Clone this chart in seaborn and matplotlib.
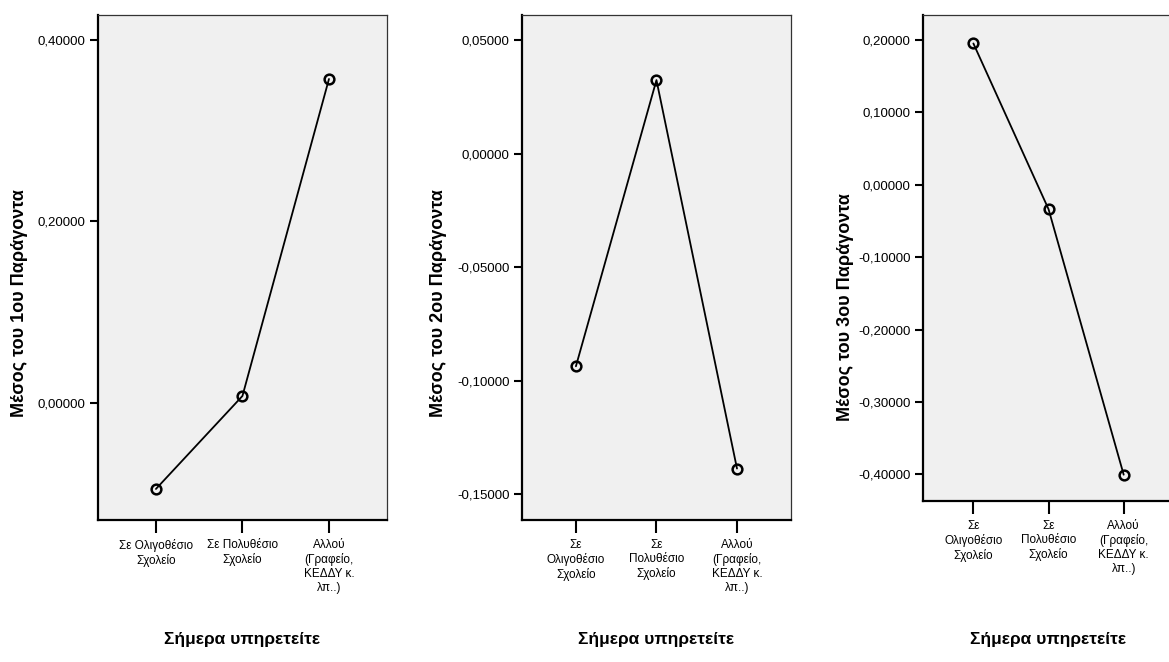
import matplotlib
matplotlib.use("Agg")
import matplotlib.pyplot as plt
import seaborn as sns
from matplotlib.ticker import FuncFormatter

# category labels (two layouts, as SPSS wrapped them)
cats_wide = ["Σε Ολιγοθέσιο\nΣχολείο", "Σε Πολυθέσιο\nΣχολείο", "Αλλού\n(Γραφείο,\nΚΕΔΔΥ κ.\nλπ..)"]
cats_narrow = ["Σε\nΟλιγοθέσιο\nΣχολείο", "Σε\nΠολυθέσιο\nΣχολείο", "Αλλού\n(Γραφείο,\nΚΕΔΔΥ κ.\nλπ..)"]

# means per factor
factor1 = [-0.0948, 0.0077, 0.357]
factor2 = [-0.0937, 0.0325, -0.1388]
factor3 = [0.1953, -0.0337, -0.4006]

ylabels = ["Μέσος του 1ου Παράγοντα", "Μέσος του 2ου Παράγοντα", "Μέσος του 3ου Παράγοντα"]
yticks1 = [0.0, 0.2, 0.4]
yticks2 = [-0.15, -0.10, -0.05, 0.0, 0.05]
yticks3 = [-0.4, -0.3, -0.2, -0.1, 0.0, 0.1, 0.2]
xlabel = "Σήμερα υπηρετείτε"

sns.set_style("white")
plt.rcParams["font.family"] = ["Liberation Sans", "DejaVu Sans"]
plt.rcParams["text.color"] = "black"
plt.rcParams["axes.labelcolor"] = "black"
plt.rcParams["xtick.color"] = "black"
plt.rcParams["ytick.color"] = "black"

fig = plt.figure(figsize=(11.69, 6.62), dpi=100)

panels = [
    # axes rect, values, labels, yticks, ylim, xlabel top, ylabel centre, ylabel pad
    ([0.0838, 0.2145, 0.2472, 0.7628], factor1, cats_wide, yticks1, (-0.129, 0.4275), -0.222, 0.43, 7),
    ([0.4465, 0.2145, 0.2301, 0.7628], factor2, cats_narrow, yticks2, (-0.1615, 0.0612), -0.222, 0.43, 7),
    ([0.7896, 0.2432, 0.2147, 0.7340], factor3, cats_narrow, yticks3, (-0.437, 0.2345), -0.270, 0.40, 3),
]

comma = FuncFormatter(lambda v, p: f"{v:.5f}".replace(".", ","))

for i, (rect, vals, cats, yt, ylim, xl_y, yl_y, ypad) in enumerate(panels):
    ax = fig.add_axes(rect)
    ax.set_facecolor("#f0f0f0")
    sns.pointplot(x=cats, y=vals, ax=ax, color="black", markers="o",
                  linewidth=1.3, markersize=7,
                  markerfacecolor="none", markeredgewidth=1.8)
    ax.set_xlim(-0.67, 2.67)
    ax.set_ylim(*ylim)
    ax.set_yticks(yt)
    ax.yaxis.set_major_formatter(comma)

    for s in ["left", "bottom"]:
        ax.spines[s].set_linewidth(1.6)
        ax.spines[s].set_color("black")
    for s in ["top", "right"]:
        ax.spines[s].set_linewidth(0.9)
        ax.spines[s].set_color("#333333")

    ax.tick_params(axis="y", direction="out", length=6, width=1.5, labelsize=9.5,
                   left=True, pad=3)
    ax.tick_params(axis="x", direction="out", length=9, width=1.5, labelsize=8.5,
                   bottom=True, pad=5)

    ax.set_ylabel(ylabels[i], fontweight="bold", fontsize=13, labelpad=ypad)
    ax.yaxis.label.set_y(yl_y)
    ax.set_xlabel(xlabel, fontweight="bold", fontsize=12.5)
    ax.xaxis.set_label_coords(0.5, xl_y)

fig.savefig("out.png", dpi=100)
